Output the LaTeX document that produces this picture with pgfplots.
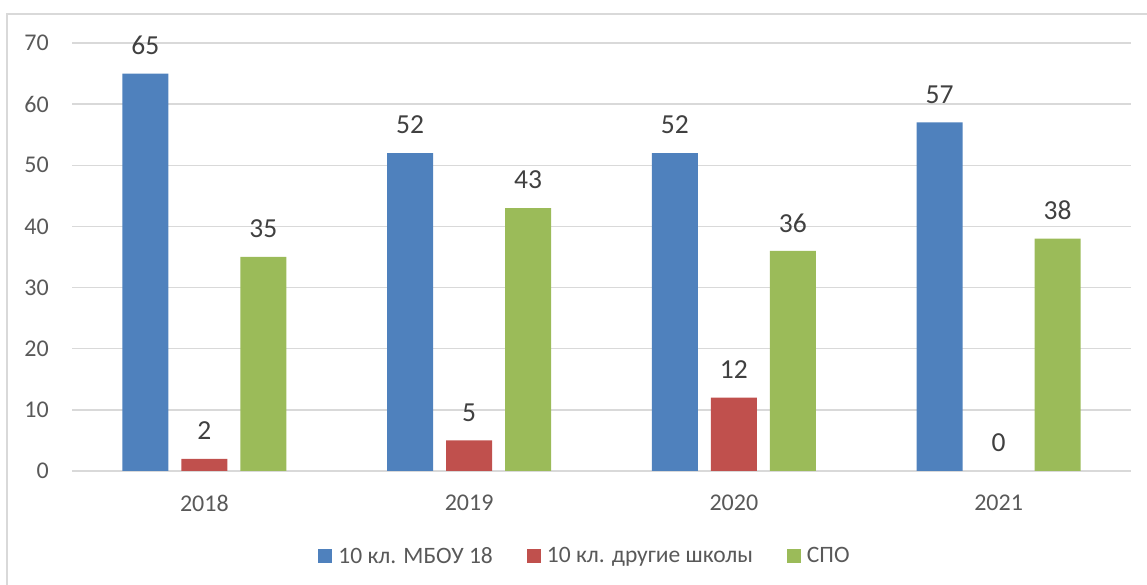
\documentclass[border=0pt]{standalone}
\usepackage{pgfplots}
\pgfplotsset{compat=1.18}
\usepackage{fontspec}
\setmainfont{Carlito}
\definecolor{cblue}{HTML}{4F81BD}
\definecolor{cred}{HTML}{C0504D}
\definecolor{cgreen}{HTML}{9BBB59}
\definecolor{cgrid}{HTML}{D9D9D9}
\definecolor{ctick}{HTML}{595959}
\definecolor{clab}{HTML}{404040}
\begin{document}
\begin{tikzpicture}
\useasboundingbox (0,0) rectangle (1147pt,585pt);
\draw[cgrid, line width=1.3pt] (7pt,-20pt) -- (7pt,571pt) -- (1170pt,571pt);
\begin{axis}[at={(72pt,114pt)}, anchor=south west, scale only axis,
  width=1059pt, height=428pt,
  xmin=-0.5, xmax=3.5, ymin=0, ymax=70,
  ytick={0,10,...,70}, xtick={0,1,2,3}, xticklabels={2018,2019,2020,2021},
  ymajorgrids, grid style={cgrid, line width=1.3pt},
  axis line style={draw=none}, major tick length=0pt,
  /pgf/number format/assume math mode=true,
  ticklabel style={font=\fontsize{24}{28}\selectfont, text=ctick, inner sep=0pt},
  yticklabel style={anchor=east, xshift=-23pt},
  xticklabel style={anchor=center, yshift=-32pt},
  ybar, bar width=46pt,
  nodes near coords,
  every node near coord/.append style={font=\fontsize{27.5}{32}\selectfont, text=clab, anchor=center, yshift=28pt, inner sep=0pt},
  legend columns=-1,
  legend style={at={(0.4835,-0.1986)}, anchor=center, draw=none, fill=none,
    font=\fontsize{23.5}{28}\selectfont, text=ctick,
    /tikz/every even column/.append style={column sep=34pt},
    /tikz/every odd column/.append style={column sep=6pt},
    nodes={inner sep=0pt}},
  legend image code/.code={\fill[#1] (0pt,-7pt) rectangle (14pt,7pt);},
]
\addplot[fill=cblue, draw=none, bar shift=-59pt] coordinates {(0,65) (1,52) (2,52) (3,57)};
\addplot[fill=cred, draw=none, bar shift=0pt] coordinates {(0,2) (1,5) (2,12)};
\addplot[fill=cgreen, draw=none, bar shift=59pt] coordinates {(0,35) (1,43) (2,36) (3,38)};
\addplot[fill=none, draw=none, bar shift=0pt, forget plot] coordinates {(3,0)};
\legend{10 кл. МБОУ 18, 10 кл. другие школы, СПО}
\end{axis}
\end{tikzpicture}
\end{document}
